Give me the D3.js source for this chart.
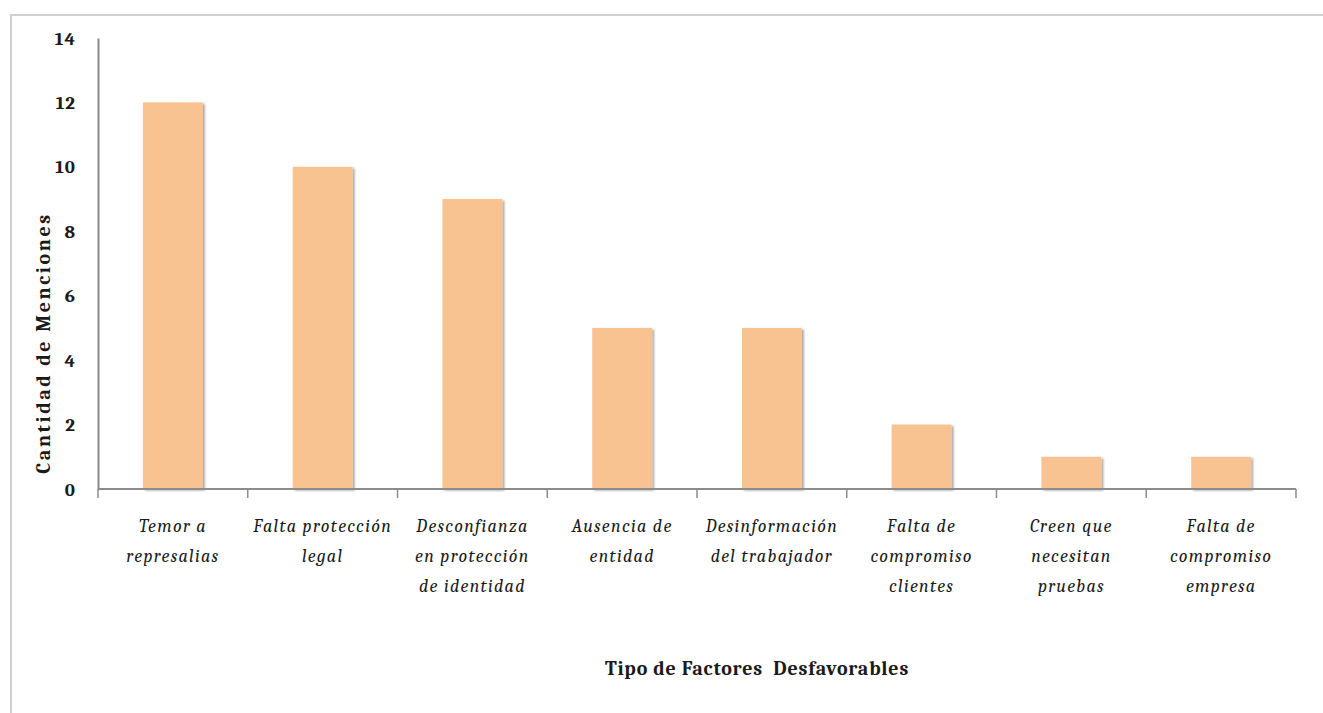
<!DOCTYPE html>
<html>
<head>
<meta charset="utf-8">
<script src="https://cdn.jsdelivr.net/npm/d3@7"></script>
<style>
  html, body { margin: 0; padding: 0; background: #fff; }
  svg { display: block; }
</style>
</head>
<body>
<svg id="chart" width="1323" height="713"></svg>
<script>
// Factores desfavorables: categories (one array entry per label line) and counts
const categories = [
  ["Temor a", "represalias"],
  ["Falta protección", "legal"],
  ["Desconfianza", "en protección", "de identidad"],
  ["Ausencia de", "entidad"],
  ["Desinformación", "del trabajador"],
  ["Falta de", "compromiso", "clientes"],
  ["Creen que", "necesitan", "pruebas"],
  ["Falta de", "compromiso", "empresa"]
];
const menciones = [12, 10, 9, 5, 5, 2, 1, 1];
const yTicks = [0, 2, 4, 6, 8, 10, 12, 14];
const yTitle = "Cantidad de Menciones";
const xTitle = "Tipo de Factores  Desfavorables";

const svg = d3.select("#chart");
const W = 1323, H = 713;
const plot = { left: 98, right: 1296, top: 38, bottom: 489 };

const serif = "Cambria, 'DejaVu Serif', 'Liberation Serif', serif";

// outer chart frame (top and left edges)
svg.append("path")
  .attr("d", `M11,${H} V15 H${W}`)
  .attr("fill", "none")
  .attr("stroke", "#d0d0d0")
  .attr("stroke-width", 2);

const keys = categories.map((c, i) => i);
const x = d3.scaleBand().domain(keys).range([plot.left, plot.right])
  .paddingInner(0.6).paddingOuter(0.3);
const y = d3.scaleLinear().domain([0, 14]).range([plot.bottom, plot.top]);

// soft shadow beneath the bars
const defs = svg.append("defs");
const f = defs.append("filter").attr("id", "barShadow")
  .attr("x", "-20%").attr("y", "-5%").attr("width", "140%").attr("height", "115%");
f.append("feDropShadow").attr("dx", 2).attr("dy", 1.5)
  .attr("stdDeviation", 1.3).attr("flood-color", "#000").attr("flood-opacity", 0.35);

svg.append("g").selectAll("rect")
  .data(menciones)
  .join("rect")
  .attr("x", (d, i) => x(i))
  .attr("y", d => y(d))
  .attr("width", x.bandwidth())
  .attr("height", d => y(0) - y(d))
  .attr("fill", "#f9c391")
  .attr("filter", "url(#barShadow)");

// y axis: line and labels, no tick marks
const yAxis = svg.append("g")
  .attr("transform", `translate(${plot.left},0)`)
  .call(d3.axisLeft(y).tickValues(yTicks).tickSize(0).tickPadding(22));
yAxis.select(".domain").attr("stroke", "#8c8c8c").attr("stroke-width", 2);
yAxis.selectAll("text")
  .attr("font-family", serif)
  .attr("font-weight", "bold")
  .attr("font-size", 19)
  .attr("letter-spacing", 1)
  .attr("fill", "#1a1a1a");

// x axis: line with boundary ticks between categories
const xAxisG = svg.append("g");
xAxisG.append("line")
  .attr("x1", plot.left).attr("x2", plot.right)
  .attr("y1", y(0)).attr("y2", y(0))
  .attr("stroke", "#8c8c8c").attr("stroke-width", 2);
const boundaries = keys.map(i => x(i) - x.step() * x.paddingOuter())
  .concat([plot.right]);
xAxisG.selectAll("line.tick")
  .data(boundaries)
  .join("line")
  .attr("class", "tick")
  .attr("x1", d => d).attr("x2", d => d)
  .attr("y1", y(0)).attr("y2", y(0) + 9)
  .attr("stroke", "#8c8c8c").attr("stroke-width", 1.5);

// category labels, italic, multi-line
const labels = svg.append("g").selectAll("text")
  .data(categories)
  .join("text")
  .attr("text-anchor", "middle")
  .attr("font-family", serif)
  .attr("font-style", "italic")
  .attr("font-size", 18)
  .attr("letter-spacing", 1.3)
  .attr("fill", "#1a1a1a")
  .attr("transform", (d, i) => `translate(${x(i) + x.bandwidth() / 2},532)`);
labels.selectAll("tspan")
  .data(d => d)
  .join("tspan")
  .attr("x", 0)
  .attr("y", (d, j) => j * 30)
  .text(d => d);

// axis titles
svg.append("text")
  .attr("transform", "translate(50,343) rotate(-90)")
  .attr("text-anchor", "middle")
  .attr("font-family", serif)
  .attr("font-weight", "bold")
  .attr("font-size", 20)
  .attr("letter-spacing", 2.6)
  .attr("fill", "#1a1a1a")
  .text(yTitle);

svg.append("text")
  .attr("x", 757).attr("y", 675)
  .attr("text-anchor", "middle")
  .attr("font-family", serif)
  .attr("font-weight", "bold")
  .attr("font-size", 20)
  .attr("letter-spacing", 0.8)
  .attr("fill", "#1a1a1a")
  .style("white-space", "pre")
  .text(xTitle);
</script>
</body>
</html>
